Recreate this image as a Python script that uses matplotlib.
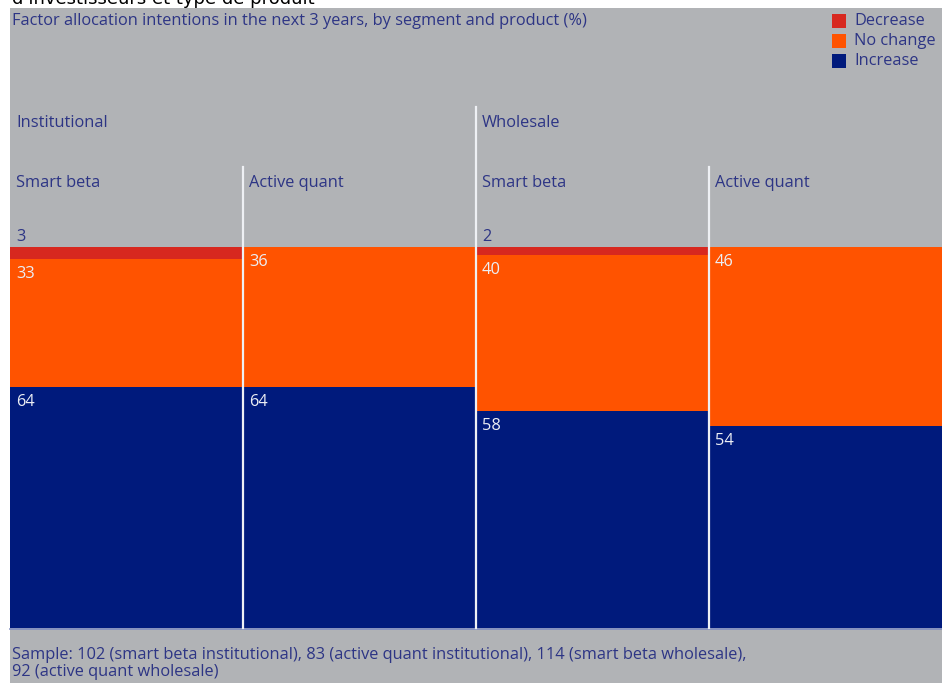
import matplotlib
matplotlib.use("Agg")
import matplotlib.pyplot as plt
from matplotlib.patches import Rectangle

plt.rcParams['font.family'] = ['Open Sans', 'DejaVu Sans']

segments = ["Institutional", "Wholesale"]
products = ["Smart beta", "Active quant", "Smart beta", "Active quant"]
decrease = [3, 0, 2, 0]
no_change = [33, 36, 40, 46]
increase = [64, 64, 58, 54]
legend_labels = ["Decrease", "No change", "Increase"]
title = "Factor allocation intentions in the next 3 years, by segment and product (%)"
top_text = "d'investisseurs et type de produit"
footnote = ("Sample: 102 (smart beta institutional), 83 (active quant institutional), 114 (smart beta wholesale),\n"
            "92 (active quant wholesale)")

W, H = 942, 683
BG = "#b1b3b6"
RED = "#d7281f"
ORANGE = "#ff5300"
NAVY = "#001a7c"
TXT = "#2d3585"
LABEL = "#eceef4"
LINE = "#eef0f4"
FS = 11.8

fig = plt.figure(figsize=(W / 100, H / 100), dpi=100)
fig.patch.set_facecolor("white")

def fx(x):
    return x / W

def fy(y):
    return 1 - y / H

# gray panel as background axes
bg = fig.add_axes([fx(10), 0, 1 - fx(10), fy(8)], zorder=-5)
bg.set_facecolor(BG)
bg.set_xticks([]); bg.set_yticks([])
for s in bg.spines.values():
    s.set_visible(False)

# cut-off heading in white strip
fig.text(fx(12), fy(4), top_text, fontsize=13, color="black", va="baseline", ha="left",
         family=["DejaVu Sans"], zorder=-10)

# bars axes (the original's scale runs slightly past the visible bottom edge)
x0, x1, y0, y1 = 10, 942, 247, 628
ymax = 97.7
ax = fig.add_axes([fx(x0), fy(y1), fx(x1) - fx(x0), fy(y0) - fy(y1)], zorder=1)
ax.set_xlim(0, 4)
ax.set_ylim(ymax, 0)
ax.axis("off")
ax.patch.set_alpha(0)

xs = list(range(4))
ax.bar(xs, decrease, width=1, bottom=0, align="edge", color=RED, linewidth=0)
b1 = [d for d in decrease]
ax.bar(xs, no_change, width=1, bottom=b1, align="edge", color=ORANGE, linewidth=0)
b2 = [d + n for d, n in zip(decrease, no_change)]
ax.bar(xs, increase, width=1, bottom=b2, align="edge", color=NAVY, linewidth=0)

px_per_unit = (y1 - y0) / ymax
off = 15 / px_per_unit
for i in range(4):
    ax.text(i + 6 / 233, b1[i] + off, str(no_change[i]), color=LABEL, fontsize=FS,
            va="center", ha="left")
    ax.text(i + 6 / 233, b2[i] + off, str(increase[i]), color=LABEL, fontsize=FS,
            va="center", ha="left")
    if decrease[i]:
        ax.text(i + 6 / 233, -10 / px_per_unit, str(decrease[i]), color=TXT, fontsize=FS,
                va="center", ha="left", clip_on=False)

# bottom thin line
fig.add_artist(plt.Line2D([fx(10), 1], [fy(628.5), fy(628.5)], transform=fig.transFigure,
                          color="#7f8cc0", lw=1.2, zorder=3))

# divider lines
col_w = (x1 - x0) / 4
for i, top in zip([1, 2, 3], [167, 107, 167]):
    xx = x0 + col_w * i
    fig.add_artist(plt.Line2D([fx(xx), fx(xx)], [fy(top), fy(y1)], transform=fig.transFigure,
                              color=LINE, lw=1.6, zorder=5))

# headers
for j, seg in enumerate(segments):
    fig.text(fx(x0 + 2 * col_w * j + 6), fy(123), seg, color=TXT, fontsize=FS, va="center", ha="left")
for i, p in enumerate(products):
    fig.text(fx(x0 + col_w * i + 6), fy(183), p, color=TXT, fontsize=FS, va="center", ha="left")

# title
fig.text(fx(12), fy(21), title, color=TXT, fontsize=FS, va="center", ha="left")

# legend
for k, (lab, c) in enumerate(zip(legend_labels, [RED, ORANGE, NAVY])):
    yc = 21 + 20 * k
    fig.patches.append(Rectangle((fx(832), fy(yc + 7)), fx(14), 14 / H, transform=fig.transFigure,
                                 facecolor=c, edgecolor="none", zorder=3))
    fig.text(fx(854), fy(yc), lab, color=TXT, fontsize=FS, va="center", ha="left")

# footnote
fig.text(fx(12), fy(647), footnote, color=TXT, fontsize=FS, va="top", ha="left", linespacing=1.1)

fig.savefig("out.png", dpi=100, facecolor=fig.get_facecolor())
